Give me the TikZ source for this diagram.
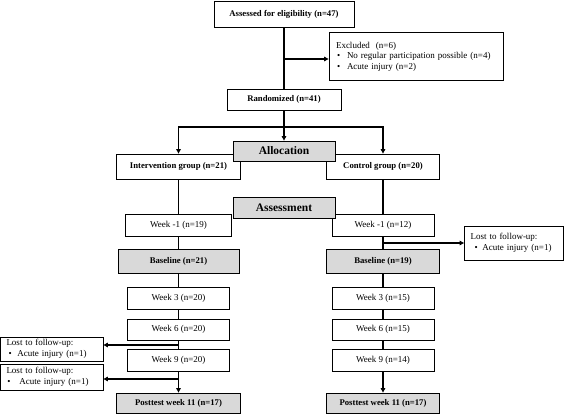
\documentclass[tikz,border=0pt]{standalone}
\usepackage{fontspec}
\setmainfont{Liberation Serif}
\usetikzlibrary{arrows.meta}
\newcommand\fsz{\fontsize{9}{10.5}\selectfont}
\newcommand\bfsz{\fontsize{8.7}{10.5}\selectfont\bfseries}
\newcommand\bul[2]{\hspace*{#1}\makebox[#2][l]{•}}
\begin{document}
\begin{tikzpicture}[x=1pt,y=-1pt,
 box/.style={draw,line width=0.8pt,inner sep=0pt,font=\fsz},
 bbox/.style={box,font=\bfsz},
 gbox/.style={bbox,fill=gray!30},
 hbox/.style={box,fill=gray!30,font=\fontsize{11.5}{13}\selectfont\bfseries},
 lbox/.style={box,align=left,inner xsep=7pt},
 conn/.style={line width=1.1pt},
 arr/.style={conn,-{Triangle[length=4.5pt,width=4.5pt]}},
]
\useasboundingbox (0,0) rectangle (568,414);
% top part
\node[bbox,minimum width=140,minimum height=26] (assess) at (284,14) {Assessed for eligibility (n=47)};
\node[lbox,text width=160,minimum height=48] (excl) at (416,56.5) {Excluded~ (n=6)\\\bul{1pt}{10pt}No regular participation possible (n=4)\\\bul{1pt}{10pt}Acute injury (n=2)};
\node[bbox,minimum width=114,minimum height=21] (rand) at (284,99.5) {Randomized (n=41)};
\node[bbox,minimum width=124,minimum height=25] (interv) at (178.5,166.5) {Intervention group (n=21)};
\node[bbox,minimum width=113,minimum height=25] (ctrl) at (383,166.5) {Control group (n=20)};
% left column
\node[box,minimum width=106,minimum height=22] (wmL) at (178.5,225) {Week -1 (n=19)};
\node[gbox,minimum width=121,minimum height=24] (baseL) at (178.5,261) {Baseline (n=21)};
\node[box,minimum width=102,minimum height=22] (w3L) at (178.5,298) {Week 3 (n=20)};
\node[box,minimum width=102,minimum height=21] (w6L) at (178.5,329.5) {Week 6 (n=20)};
\node[box,minimum width=102,minimum height=22] (w9L) at (178.5,360) {Week 9 (n=20)};
\node[gbox,minimum width=124,minimum height=20] (postL) at (178.5,403) {Posttest week 11 (n=17)};
% right column
\node[box,minimum width=102,minimum height=22] (wmR) at (383,225) {Week -1 (n=12)};
\node[gbox,minimum width=113,minimum height=24] (baseR) at (383,261) {Baseline (n=19)};
\node[box,minimum width=102,minimum height=22] (w3R) at (383,298) {Week 3 (n=15)};
\node[box,minimum width=102,minimum height=21] (w6R) at (383,329.5) {Week 6 (n=15)};
\node[box,minimum width=102,minimum height=22] (w9R) at (383,360) {Week 9 (n=14)};
\node[gbox,minimum width=113,minimum height=20] (postR) at (383,403) {Posttest week 11 (n=17)};
% section headers (drawn on top)
\node[hbox,minimum width=102,minimum height=20] (alloc) at (284,151) {Allocation};
\node[hbox,minimum width=102,minimum height=21] (asmt) at (284,207.5) {Assessment};
% lost boxes
\node[lbox,inner xsep=6pt,text width=87,minimum height=34] (lostR) at (514,243) {Lost to follow-up:\\\bul{4pt}{8pt}Acute injury (n=1)};
\node[lbox,inner xsep=6pt,text width=90.5,minimum height=24] (lostL1) at (51.75,349) {Lost to follow-up:\\\bul{2pt}{9pt}Acute injury (n=1)};
\node[lbox,inner xsep=6pt,text width=90.5,minimum height=26] (lostL2) at (51.75,377) {Lost to follow-up:\\\bul{1pt}{12pt}Acute injury (n=1)};
% connectors
\coordinate (bx) at (284,59);
\coordinate (split) at (284,127);
\draw[conn] (assess) -- (rand);
\draw[arr] (bx) -- (bx -| excl.west);
\draw[arr] (rand) -- (alloc);
\draw[arr] (split) -| (interv);
\draw[arr] (split) -| (ctrl);
\draw[conn] (interv) -- (wmL);
\draw[conn] (wmL) -- (baseL);
\draw[conn] (baseL) -- (w3L);
\draw[conn] (w3L) -- (w6L);
\draw[conn] (w6L) -- (w9L);
\draw[arr] (w9L) -- (postL);
\draw[conn] (ctrl) -- (wmR);
\draw[conn] (wmR) -- (baseR);
\draw[conn] (baseR) -- (w3R);
\draw[conn] (w3R) -- (w6R);
\draw[conn] (w6R) -- (w9R);
\draw[arr] (w9R) -- (postR);
\coordinate (bR) at (383,243);
\draw[arr] (bR) -- (lostR.west);
\coordinate (bL1) at (178.5,345);
\draw[arr] (bL1) -- (bL1 -| lostL1.east);
\coordinate (bL2) at (178.5,379);
\draw[arr] (bL2) -- (bL2 -| lostL2.east);
\end{tikzpicture}
\end{document}
